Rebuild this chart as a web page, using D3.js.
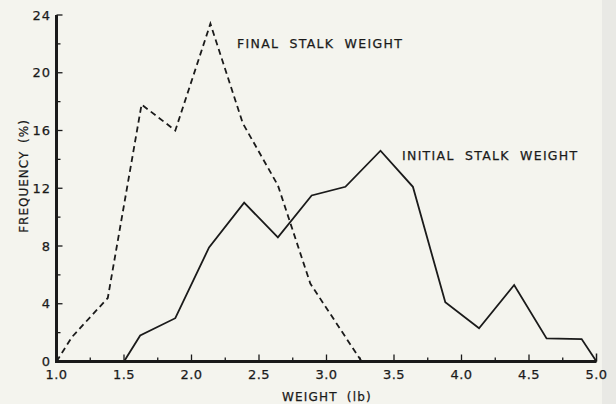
<!DOCTYPE html>
<html>
<head>
<meta charset="utf-8">
<script src="https://cdn.jsdelivr.net/npm/d3@7"></script>
<style>
  body { margin: 0; background: #f4f4ee; }
  svg { display: block; }
  text { font-family: "DejaVu Sans", sans-serif; fill: #1a1a1a; stroke: #1a1a1a; stroke-width: 0.25px; }
</style>
</head>
<body>
<script>
var width = 616,
    height = 404;

// readings from the plot (weight in lb, frequency in %)
var finalWeight = [1.0, 1.115, 1.38, 1.63, 1.88, 2.14, 2.38, 2.64, 2.88, 3.26];
var finalFreq = [0, 1.7, 4.4, 17.8, 16.0, 23.4, 16.5, 12.2, 5.4, 0];

var initialWeight = [1.5, 1.62, 1.88, 2.13, 2.39, 2.64, 2.89, 3.14, 3.40, 3.64, 3.88, 4.13, 4.39, 4.63, 4.89, 5.0];
var initialFreq = [0, 1.8, 3.0, 7.9, 11.0, 8.6, 11.5, 12.1, 14.6, 12.1, 4.1, 2.3, 5.3, 1.6, 1.55, 0];

var xTickLabels = ["1.0", "1.5", "2.0", "2.5", "3.0", "3.5", "4.0", "4.5", "5.0"];
var yTickLabels = ["0", "4", "8", "12", "16", "20", "24"];

var svg = d3.select("body").append("svg")
    .attr("width", width)
    .attr("height", height);

// scan edge on the right
svg.append("rect")
    .attr("x", 602).attr("y", 0)
    .attr("width", width - 602).attr("height", height)
    .style("fill", "#e9e9e5");

var x = d3.scaleLinear().domain([1, 5]).range([56.5, 596.5]);
var y = d3.scaleLinear().domain([0, 24]).range([361.5, 15]);

var ink = "#1a1a1a";

// minor + major ticks, drawn inward
var xMinor = d3.range(1.25, 5, 0.25);
svg.selectAll(".xtick")
    .data(xMinor)
    .enter().append("line")
    .attr("x1", function (d) { return x(d); })
    .attr("x2", function (d) { return x(d); })
    .attr("y1", y(0))
    .attr("y2", function (d, i) { return y(0) - (i % 2 ? 7 : 4); })
    .style("stroke", ink).style("stroke-width", 1.3);

svg.append("line")
    .attr("x1", x(5)).attr("x2", x(5))
    .attr("y1", y(0)).attr("y2", y(0) - 8)
    .style("stroke", ink).style("stroke-width", 1.5);

var yMinor = d3.range(2, 25, 2);
svg.selectAll(".ytick")
    .data(yMinor)
    .enter().append("line")
    .attr("x1", x(1))
    .attr("x2", function (d, i) { return x(1) + (i % 2 ? 6 : 4); })
    .attr("y1", function (d) { return y(d); })
    .attr("y2", function (d) { return y(d); })
    .style("stroke", ink).style("stroke-width", 1.3);

// axes frame
svg.append("path")
    .attr("d", "M" + x(1) + "," + y(24) + "V" + y(0) + "H" + x(5))
    .style("fill", "none").style("stroke", ink).style("stroke-width", 3);

svg.selectAll(".xlabel")
    .data(xTickLabels)
    .enter().append("text")
    .attr("x", function (d) { return x(+d); })
    .attr("y", 379)
    .attr("text-anchor", "middle")
    .style("font-size", "13px")
    .style("letter-spacing", "0.5px")
    .text(function (d) { return d; });

svg.selectAll(".ylabel")
    .data(yTickLabels)
    .enter().append("text")
    .attr("x", 51)
    .attr("y", function (d) { return y(+d) + 4.5; })
    .attr("text-anchor", "end")
    .style("font-size", "13px")
    .style("letter-spacing", "1px")
    .text(function (d) { return d; });

svg.append("text")
    .attr("x", 327).attr("y", 401)
    .attr("text-anchor", "middle")
    .style("font-size", "12px")
    .style("letter-spacing", "1.2px")
    .style("word-spacing", "4px")
    .text("WEIGHT (lb)");

svg.append("text")
    .attr("transform", "translate(28,176) rotate(-90)")
    .attr("text-anchor", "middle")
    .style("font-size", "12px")
    .style("letter-spacing", "1px")
    .style("word-spacing", "3px")
    .text("FREQUENCY (%)");

var line = d3.line()
    .x(function (d) { return x(d[0]); })
    .y(function (d) { return y(d[1]); });

svg.append("path")
    .datum(d3.zip(finalWeight, finalFreq))
    .attr("d", line)
    .style("fill", "none").style("stroke", ink)
    .style("stroke-width", 1.8)
    .style("stroke-dasharray", "6,4");

svg.append("path")
    .datum(d3.zip(initialWeight, initialFreq))
    .attr("d", line)
    .style("fill", "none").style("stroke", ink)
    .style("stroke-width", 1.8);

svg.append("text")
    .attr("x", 237).attr("y", 48)
    .style("font-size", "12.5px")
    .style("letter-spacing", "1.3px")
    .style("word-spacing", "5px")
    .text("FINAL STALK WEIGHT");

svg.append("text")
    .attr("x", 402).attr("y", 160)
    .style("font-size", "12.5px")
    .style("letter-spacing", "1.3px")
    .style("word-spacing", "5px")
    .text("INITIAL STALK WEIGHT");
</script>
</body>
</html>
